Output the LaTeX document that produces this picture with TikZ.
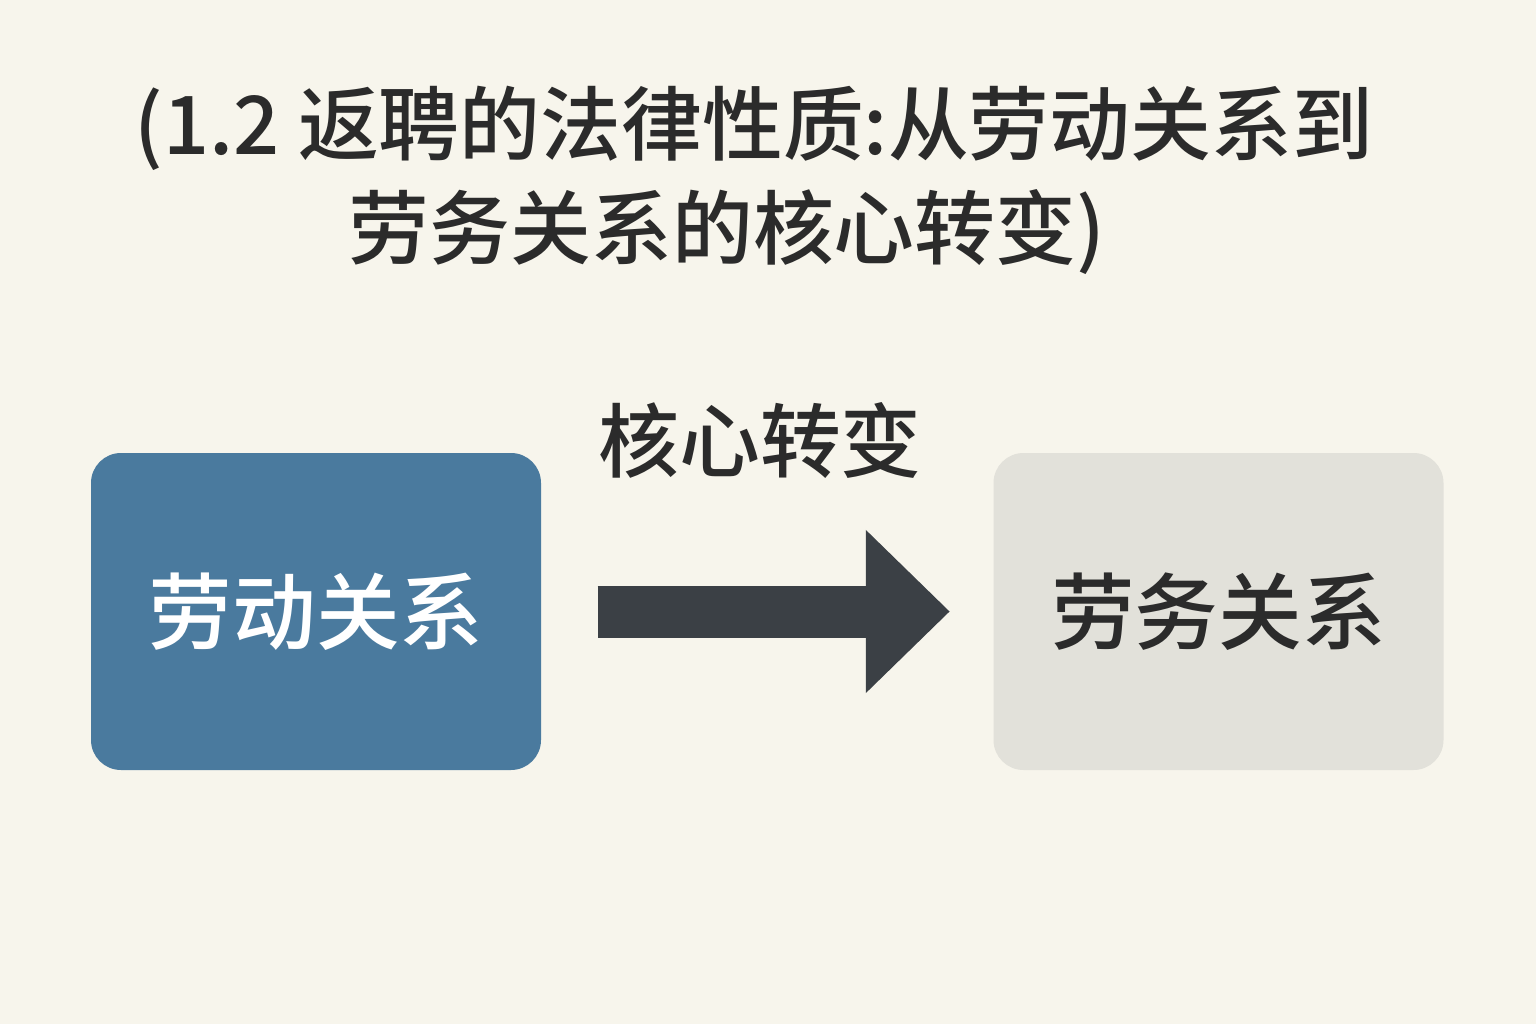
\documentclass[tikz,border=0pt]{standalone}
\usepackage{fontspec}
\setmainfont{Noto Sans CJK SC}[BoldFont={* Medium}]
\usetikzlibrary{positioning,arrows.meta}

\definecolor{paper}{HTML}{F7F5EC}
\definecolor{laborblue}{HTML}{4A7A9E}
\definecolor{servicegray}{HTML}{E2E1DA}
\definecolor{arrowdark}{HTML}{3B4045}
\definecolor{inkdark}{HTML}{2B2B2B}

\begin{document}
\begin{tikzpicture}
    \tikzset{relation/.style={
        rounded corners=0.3cm, minimum width=4.5cm, minimum height=3.17cm,
        inner sep=0pt, font=\fontsize{23.8pt}{28pt}\selectfont\bfseries
      },
      heading/.style={font=\fontsize{23pt}{30pt}\selectfont\bfseries, text=inkdark, inner sep=0pt}
    }

    \fill[paper] (0,0) rectangle (15.36,10.24);
    \useasboundingbox (0,0) rectangle (15.36,10.24);

    \node[heading] (title1) at (7.54,8.96) {(1.2 返聘的法律性质:从劳动关系到};
    \node[heading] (title2) at (7.27,7.92) {劳务关系的核心转变)};

    \node[relation, fill=laborblue, text=white] (labor) at (3.16,4.125) {劳动关系};
    \node[relation, fill=servicegray, text=inkdark] (service) at (12.185,4.125) {劳务关系};

    \node[heading] (shift) at (7.60,5.84) {核心转变};

    \draw[arrowdark, line width=0.52cm, -{Triangle[width=1.58cm,length=0.84cm]},
      shorten <=0.56cm, shorten >=0.43cm] (labor) -- (service);
  \end{tikzpicture}
\end{document}
